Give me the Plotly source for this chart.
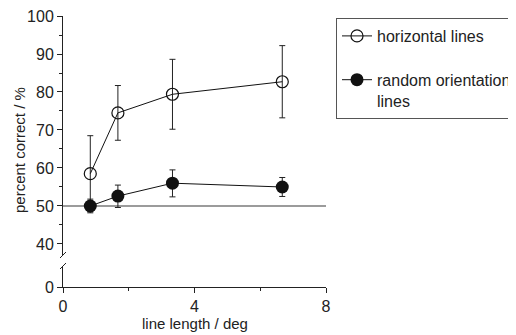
import plotly.graph_objects as go

# data
line_length = [0.83, 1.67, 3.33, 6.67]
horiz_mean = [58.5, 74.5, 79.4, 82.7]
horiz_err = [10.0, 7.2, 9.2, 9.5]
random_mean = [50.0, 52.6, 56.0, 55.0]
random_err_plus = [1.8, 2.9, 3.5, 2.5]
random_err_minus = [1.8, 3.0, 3.6, 2.5]
chance_x = [0, 8]
chance_y = [50, 50]

TXT = "#222222"
FONT = "Liberation Sans, Arial, sans-serif"

fig = go.Figure()

fig.add_trace(go.Scatter(
    x=chance_x, y=chance_y, mode="lines",
    line=dict(color="#7a7a7a", width=1.5),
    showlegend=False, hoverinfo="skip",
    xaxis="x", yaxis="y"))

fig.add_trace(go.Scatter(
    x=line_length, y=horiz_mean, mode="lines+markers",
    name="horizontal lines", legendgroup="a",
    line=dict(color="#111111", width=1),
    marker=dict(symbol="circle-open", size=12, color="#111111",
                line=dict(width=1.2, color="#111111")),
    error_y=dict(type="data", array=horiz_err, color="#222222",
                 thickness=1, width=3),
    xaxis="x", yaxis="y"))

fig.add_trace(go.Scatter(
    x=line_length, y=random_mean, mode="lines+markers",
    name="random orientation<br>lines", legendgroup="b",
    line=dict(color="#111111", width=1),
    marker=dict(symbol="circle", size=13, color="#111111"),
    error_y=dict(type="data", array=random_err_plus,
                 arrayminus=random_err_minus, color="#222222",
                 thickness=1, width=3),
    xaxis="x", yaxis="y"))

# placeholder so the lower (broken) axis segment is drawn
fig.add_trace(go.Scatter(x=[None], y=[None], xaxis="x", yaxis="y2",
                         showlegend=False, hoverinfo="skip"))

OFF = 8  # default page body margin
W, H = 516 - OFF, 335 - OFF
ml = 63 - OFF
mt = 16 - OFF
plot_right = 326 - OFF
plot_bottom = 287 - OFF
mr = W - plot_right
mb = H - plot_bottom
pw = plot_right - ml
ph = plot_bottom - mt


def px2paper_x(px):
    return (px - OFF - ml) / pw


def px2paper_y(py):
    return (plot_bottom - (py - OFF)) / ph


up_dom0 = px2paper_y(255)
low_dom1 = px2paper_y(266)

axcol = "#222222"

fig.update_layout(
    width=W, height=H,
    margin=dict(l=ml, r=mr, t=mt, b=mb, autoexpand=False),
    paper_bgcolor="white", plot_bgcolor="white",
    font=dict(family=FONT, size=16, color=TXT),
    xaxis=dict(domain=[0, 1], anchor="y2", range=[0, 8],
               tickvals=[0, 4, 8], ticks="outside", ticklen=5,
               tickcolor=axcol, showline=True, linecolor=axcol, linewidth=1,
               showgrid=False, zeroline=False, automargin=False,
               ticklabeloverflow="allow",
               minor=dict(tickvals=[2, 6], ticks="outside", ticklen=3,
                          tickcolor=axcol, showgrid=False)),
    yaxis=dict(domain=[up_dom0, 1], anchor="x", range=[37.1, 100],
               tick0=0, dtick=10, ticks="outside", ticklen=5,
               tickcolor=axcol, showline=True, linecolor=axcol, linewidth=1,
               showgrid=False, zeroline=False, automargin=False,
               ticklabeloverflow="allow",
               minor=dict(dtick=5, tick0=0, ticks="outside", ticklen=3,
                          tickcolor=axcol, showgrid=False)),
    yaxis2=dict(domain=[0, low_dom1], anchor="x", range=[0, 5.5],
                tickvals=[0], ticks="outside", ticklen=5, tickcolor=axcol,
                showline=True, linecolor=axcol, linewidth=1,
                showgrid=False, zeroline=False, automargin=False,
                ticklabeloverflow="allow"),
    legend=dict(x=px2paper_x(336), y=px2paper_y(18),
                xanchor="left", yanchor="top",
                bordercolor="#555555", borderwidth=1,
                font=dict(size=16, color=TXT), valign="top",
                traceorder="grouped", tracegroupgap=20,
                itemwidth=30),
    showlegend=True,
)

# axis titles
fig.add_annotation(text="line length / deg", xref="paper", yref="paper",
                   x=0.5, y=px2paper_y(323), xanchor="center",
                   yanchor="middle", showarrow=False,
                   font=dict(size=15, color=TXT))
fig.add_annotation(text="percent correct / %", xref="paper", yref="paper",
                   x=px2paper_x(19), y=px2paper_y(150), xanchor="center",
                   yanchor="middle", textangle=-90, showarrow=False,
                   font=dict(size=15, color=TXT))

# axis-break slashes
for (y0, y1) in [(258, 252), (269, 263)]:
    fig.add_shape(type="line", xref="paper", yref="paper",
                  x0=px2paper_x(60), x1=px2paper_x(66),
                  y0=px2paper_y(y0), y1=px2paper_y(y1),
                  line=dict(color=axcol, width=1))

fig.write_html("out.html")
